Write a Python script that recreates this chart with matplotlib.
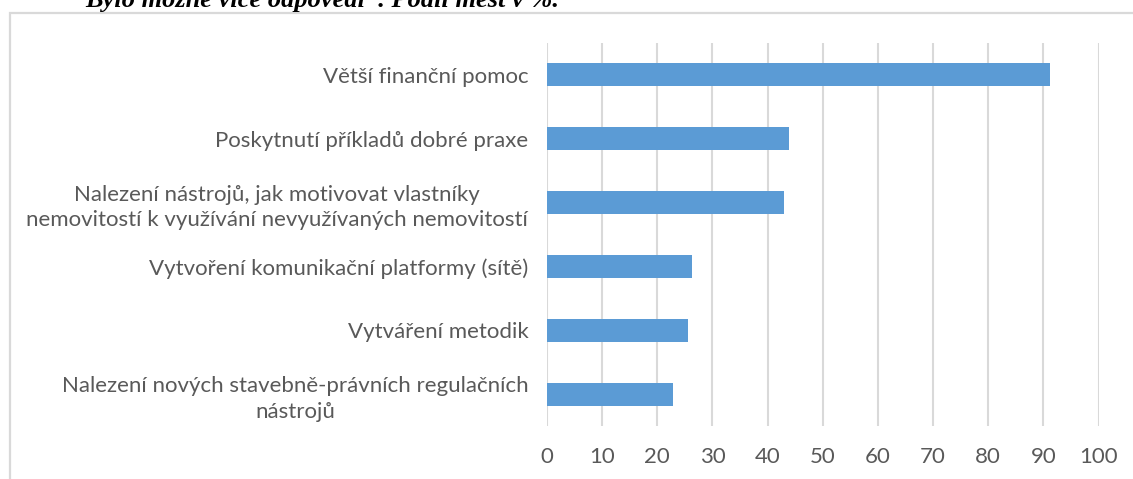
import matplotlib.pyplot as plt
from matplotlib.patches import Rectangle

plt.rcParams['font.family'] = ['Lato', 'DejaVu Sans']

categories = [
    "Větší finanční pomoc",
    "Poskytnutí příkladů dobré praxe",
    "Nalezení nástrojů, jak motivovat vlastníky\nnemovitostí k využívání nevyužívaných nemovitostí",
    "Vytvoření komunikační platformy (sítě)",
    "Vytváření metodik",
    "Nalezení nových stavebně-právních regulačních\nnástrojů",
]
shares = [91.2, 43.9, 43.0, 26.3, 25.5, 22.8]
xticks = list(range(0, 101, 10))

W, H = 1133, 479
fig = plt.figure(figsize=(W / 100, H / 100), dpi=100)

# light frame around the chart area
fig.patches.append(Rectangle((10 / W, -0.1), 1.2, 1.1 - 13.5 / H, transform=fig.transFigure,
                             fill=False, edgecolor='#d9d9d9', lw=1.6))

# caption above the chart, partly cut by the top edge
fig.text(85 / W, 1 - 7.5 / H, "Bylo možné více odpovědí*. Podíl měst v %.",
         family='Liberation Serif', style='italic', weight='bold', fontsize=19,
         va='baseline', ha='left', color='black')

ax = fig.add_axes([547 / W, 1 - 426 / H, (1098.5 - 547) / W, (426 - 43) / H])
y = range(len(categories))
ax.barh(y, shares, height=0.36, color='#5b9bd5', zorder=3)
ax.set_ylim(len(categories) - 0.5, -0.5)
ax.set_xlim(0, 100)
ax.set_xticks(xticks)
ax.set_yticks(list(y))
ax.set_yticklabels(categories, multialignment='center', linespacing=1.35)
ax.grid(axis='x', color='#d9d9d9', lw=1.5, zorder=0)
for s in ax.spines.values():
    s.set_visible(False)
ax.tick_params(axis='both', length=0, labelsize=16, labelcolor='#595959')
ax.tick_params(axis='y', pad=13.5)
ax.tick_params(axis='x', pad=15)

fig.savefig('out.png', dpi=100)
